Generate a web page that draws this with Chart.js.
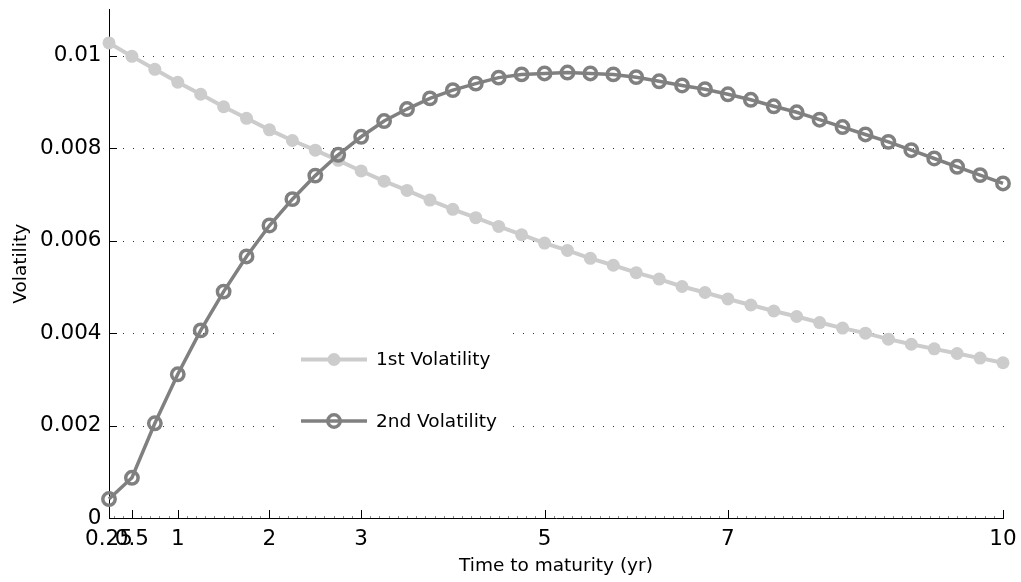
<!DOCTYPE html>
<html>
<head>
<meta charset="utf-8">
<title>Volatility term structure</title>
<script src="https://cdn.jsdelivr.net/npm/chart.js@4/dist/chart.umd.min.js"></script>
<style>
  html, body { margin: 0; padding: 0; background: #ffffff; }
  canvas { display: block; }
</style>
</head>
<body>
<canvas id="chart" width="1021" height="582"></canvas>
<script>
// Maturities (years) at which both volatility factors are sampled
const maturities = [
  0.25, 0.5, 0.75, 1.0, 1.25, 1.5, 1.75, 2.0, 2.25, 2.5,
  2.75, 3.0, 3.25, 3.5, 3.75, 4.0, 4.25, 4.5, 4.75, 5.0,
  5.25, 5.5, 5.75, 6.0, 6.25, 6.5, 6.75, 7.0, 7.25, 7.5,
  7.75, 8.0, 8.25, 8.5, 8.75, 9.0, 9.25, 9.5, 9.75, 10.0
];

// First volatility factor
const vol1 = [
  0.01028, 0.00999, 0.00971, 0.00943, 0.00917, 0.00890, 0.00865, 0.00840, 0.00817, 0.00796,
  0.00774, 0.00751, 0.00729, 0.00709, 0.00688, 0.00668, 0.00650, 0.00631, 0.00613, 0.00595,
  0.00579, 0.00562, 0.00547, 0.00531, 0.00517, 0.00501, 0.00488, 0.00474, 0.00461, 0.00448,
  0.00436, 0.00423, 0.00411, 0.00400, 0.00387, 0.00376, 0.00366, 0.00356, 0.00346, 0.00336
];

// Second volatility factor
const vol2 = [
  0.00041, 0.00087, 0.00205, 0.00311, 0.00406, 0.00490, 0.00566, 0.00633, 0.00690, 0.00741,
  0.00786, 0.00825, 0.00859, 0.00885, 0.00908, 0.00926, 0.00940, 0.00953, 0.00960, 0.00962,
  0.00964, 0.00962, 0.00960, 0.00954, 0.00945, 0.00936, 0.00928, 0.00917, 0.00905, 0.00891,
  0.00878, 0.00862, 0.00846, 0.00830, 0.00814, 0.00796, 0.00778, 0.00760, 0.00742, 0.00724
];

const seriesNames = ['1st Volatility', '2nd Volatility'];

// Axis ticks
const xTicks = [0.25, 0.5, 1, 2, 3, 5, 7, 10];
const xTickLabels = ['0.25', '0.5', '1', '2', '3', '5', '7', '10'];
const yTicks = [0, 0.002, 0.004, 0.006, 0.008, 0.01];
const yTickLabels = ['0', '0.002', '0.004', '0.006', '0.008', '0.01'];

const FONT = 'DejaVu Sans';
const LIGHT = '#cccccc';
const DARK = '#808080';

const toPoints = (vals) => maturities.map((m, i) => ({ x: m, y: vals[i] }));

// Dotted horizontal grid plus inward-pointing tick marks, MATLAB style
const axisDecor = {
  id: 'axisDecor',
  beforeDatasetsDraw(chart) {
    const { ctx, chartArea: a, scales: { x, y } } = chart;
    const xEnd = x.getPixelForValue(10) + 2;
    ctx.save();

    // dotted grid lines (none on the zero line, which is the x axis)
    ctx.strokeStyle = '#333333';
    ctx.lineWidth = 1;
    ctx.setLineDash([1, 9]);
    ctx.lineDashOffset = 6;
    yTicks.forEach(v => {
      if (v === 0) return;
      const py = Math.round(y.getPixelForValue(v)) + 0.5;
      ctx.beginPath();
      ctx.moveTo(a.left, py);
      ctx.lineTo(xEnd, py);
      ctx.stroke();
    });
    ctx.setLineDash([]);

    // major ticks
    ctx.strokeStyle = '#000';
    ctx.beginPath();
    xTicks.forEach(v => {
      const px = Math.round(x.getPixelForValue(v)) + 0.5;
      ctx.moveTo(px, a.bottom);
      ctx.lineTo(px, a.bottom - 8);
    });
    yTicks.forEach(v => {
      const py = Math.round(y.getPixelForValue(v)) + 0.5;
      ctx.moveTo(a.left, py);
      ctx.lineTo(a.left + 8, py);
    });
    ctx.stroke();

    // minor ticks every 0.1 yr
    ctx.strokeStyle = '#8a8a8a';
    ctx.beginPath();
    for (let t = 3; t < 100; t++) {
      const v = t / 10;
      if (xTicks.some(m => Math.abs(m - v) < 1e-9)) continue;
      const px = Math.round(x.getPixelForValue(v)) + 0.5;
      ctx.moveTo(px, a.bottom);
      ctx.lineTo(px, a.bottom - 2);
    }
    ctx.stroke();
    ctx.restore();
  }
};

// Legend box placed inside the plot, with line + marker samples
const insideLegend = {
  id: 'insideLegend',
  afterDatasetsDraw(chart) {
    const { ctx } = chart;
    const box = { x: 281, y: 327, w: 228, h: 126 };
    const rows = [359.5, 421];
    ctx.save();
    ctx.fillStyle = '#ffffff';
    ctx.fillRect(box.x, box.y, box.w, box.h);
    chart.data.datasets.forEach((ds, i) => {
      const yy = rows[i];
      ctx.strokeStyle = ds.borderColor;
      ctx.lineWidth = ds.borderWidth;
      ctx.beginPath();
      ctx.moveTo(301, yy);
      ctx.lineTo(367, yy);
      ctx.stroke();
      ctx.beginPath();
      ctx.arc(334, yy, ds.pointRadius, 0, Math.PI * 2);
      if (ds.pointBorderWidth > 0) {
        ctx.lineWidth = ds.pointBorderWidth;
        ctx.strokeStyle = ds.pointBorderColor;
        ctx.stroke();
      } else {
        ctx.fillStyle = ds.pointBackgroundColor;
        ctx.fill();
      }
      ctx.fillStyle = '#000';
      ctx.font = '18.5px "' + FONT + '"';
      ctx.textAlign = 'left';
      ctx.textBaseline = 'middle';
      ctx.fillText(ds.label, 376, yy + 1);
    });
    ctx.restore();
  }
};

new Chart(document.getElementById('chart'), {
  type: 'line',
  data: {
    datasets: [
      {
        label: seriesNames[0],
        data: toPoints(vol1),
        order: 1,
        borderColor: LIGHT,
        backgroundColor: LIGHT,
        borderWidth: 4,
        pointRadius: 6.5,
        pointHoverRadius: 6.5,
        pointBorderWidth: 0,
        pointBackgroundColor: LIGHT,
        pointBorderColor: LIGHT,
        tension: 0,
        clip: false
      },
      {
        label: seriesNames[1],
        data: toPoints(vol2),
        order: 0,
        borderColor: DARK,
        backgroundColor: DARK,
        borderWidth: 3.5,
        pointRadius: 6.2,
        pointHoverRadius: 6.2,
        pointBorderWidth: 3.5,
        pointBackgroundColor: 'rgba(0,0,0,0)',
        pointBorderColor: DARK,
        tension: 0,
        clip: false
      }
    ]
  },
  options: {
    responsive: false,
    animation: false,
    devicePixelRatio: 1,
    events: [],
    layout: { padding: { top: 5, right: 18, left: 0, bottom: 0 } },
    plugins: {
      legend: { display: false },
      tooltip: { enabled: false }
    },
    scales: {
      x: {
        type: 'linear',
        min: 0.25,
        max: 10,
        afterBuildTicks: (s) => { s.ticks = xTicks.map(v => ({ value: v })); },
        afterFit: (s) => { s.height = 64; s.paddingLeft = 0; s.paddingRight = 0; },
        grid: { display: false, drawTicks: false },
        border: { display: true, color: '#000', width: 1 },
        ticks: {
          autoSkip: false,
          maxRotation: 0,
          minRotation: 0,
          color: '#000',
          padding: 9,
          font: { family: FONT, size: 21.5 },
          callback: (v) => { const i = xTicks.indexOf(v); return i >= 0 ? xTickLabels[i] : ''; }
        },
        title: {
          display: true,
          text: 'Time to maturity (yr)',
          color: '#000',
          font: { family: FONT, size: 18.5 },
          padding: { top: 0, bottom: 5 }
        }
      },
      y: {
        min: 0,
        max: 0.011,
        afterBuildTicks: (s) => { s.ticks = yTicks.map(v => ({ value: v })); },
        afterFit: (s) => { s.width = 109; s.paddingTop = 0; s.paddingBottom = 0; },
        grid: { display: false, drawTicks: false },
        border: { display: true, color: '#000', width: 1 },
        ticks: {
          color: '#000',
          padding: 7.5,
          font: { family: FONT, size: 21.5 },
          callback: (v) => { const i = yTicks.indexOf(v); return i >= 0 ? yTickLabels[i] : ''; }
        },
        title: {
          display: true,
          text: 'Volatility',
          color: '#000',
          font: { family: FONT, size: 18.5 },
          padding: { top: 10.5, bottom: 0 }
        }
      }
    }
  },
  plugins: [axisDecor, insideLegend]
});
</script>
</body>
</html>
